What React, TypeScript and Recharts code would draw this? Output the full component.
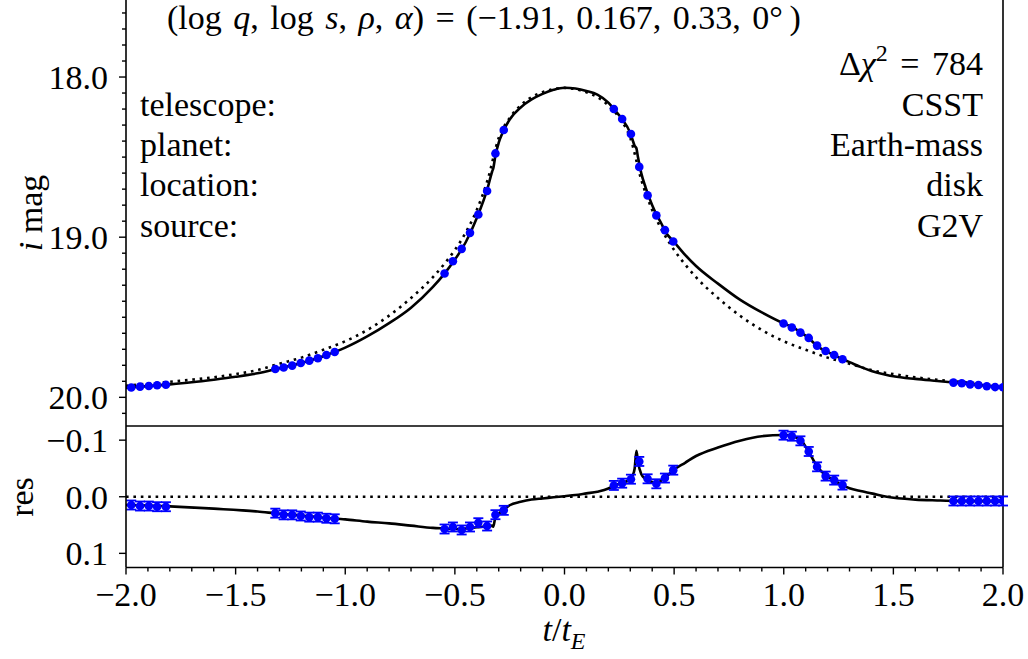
import React from "react";
import { ComposedChart, Line, Scatter, XAxis, YAxis, ErrorBar, ReferenceLine } from "recharts";

// --- values ---

// binary-lens model light curve (solid)
const modelT = [
  -2.0, -1.9, -1.8, -1.7, -1.6, -1.5, -1.4, -1.3, -1.2, -1.1, -1.0, -0.9, -0.8, -0.7, -0.6, -0.55, -0.5,
  -0.45, -0.4, -0.35, -0.33, -0.325, -0.315, -0.3, -0.28, -0.25, -0.2, -0.15, -0.1, -0.05, 0, 0.05, 0.1,
  0.15, 0.2, 0.225, 0.26, 0.3, 0.31, 0.32, 0.328, 0.335, 0.35, 0.37, 0.4, 0.42, 0.44, 0.46, 0.5, 0.55,
  0.6, 0.7, 0.8, 0.9, 1.0, 1.04, 1.08, 1.11, 1.15, 1.19, 1.23, 1.27, 1.3, 1.35, 1.4, 1.47, 1.5, 1.6, 1.7,
  1.8, 1.9, 2.0,
];
const modelMag = [
  19.94, 19.93, 19.919, 19.906, 19.89, 19.872, 19.85, 19.818, 19.785, 19.743, 19.69, 19.62, 19.537,
  19.44, 19.31, 19.232, 19.14, 19.03, 18.88, 18.69, 18.59, 18.57, 18.49, 18.41, 18.34, 18.265, 18.19,
  18.14, 18.105, 18.08, 18.067, 18.072, 18.087, 18.11, 18.16, 18.2, 18.258, 18.35, 18.39, 18.43, 18.445,
  18.5, 18.6, 18.69, 18.8, 18.86, 18.91, 18.966, 19.03, 19.11, 19.18, 19.29, 19.39, 19.47, 19.539,
  19.562, 19.598, 19.626, 19.676, 19.712, 19.736, 19.763, 19.78, 19.81, 19.835, 19.86, 19.868, 19.885,
  19.898, 19.911, 19.924, 19.936,
];

// single-lens curve (dotted)
const singleT = [
  -2.0, -1.9, -1.8, -1.7, -1.6, -1.5, -1.4, -1.3, -1.2, -1.1, -1.0, -0.9, -0.8, -0.7, -0.6, -0.55, -0.5,
  -0.45, -0.4, -0.35, -0.3, -0.25, -0.2, -0.15, -0.1, 0, 0.1, 0.15, 0.2, 0.25, 0.3, 0.35, 0.4, 0.45, 0.5,
  0.55, 0.6, 0.7, 0.8, 0.9, 1.0, 1.1, 1.2, 1.3, 1.4, 1.5, 1.6, 1.7, 1.8, 1.9, 2.0,
];
const singleMag = [
  19.928, 19.915, 19.903, 19.89, 19.875, 19.855, 19.83, 19.79, 19.752, 19.703, 19.65, 19.58, 19.49,
  19.38, 19.25, 19.17, 19.08, 18.97, 18.83, 18.64, 18.38, 18.255, 18.177, 18.125, 18.095, 18.068, 18.095,
  18.125, 18.177, 18.255, 18.38, 18.64, 18.83, 18.97, 19.08, 19.17, 19.25, 19.38, 19.49, 19.58, 19.65,
  19.703, 19.752, 19.79, 19.83, 19.855, 19.875, 19.89, 19.903, 19.915, 19.928,
];

// residual model (solid, lower panel)
const resT = [
  -2.0, -1.9, -1.8, -1.6, -1.4, -1.3, -1.2, -1.1, -1.0, -0.9, -0.8, -0.7, -0.6, -0.55, -0.5, -0.45, -0.4,
  -0.35, -0.33, -0.325, -0.315, -0.3, -0.28, -0.25, -0.2, -0.15, -0.1, -0.05, 0, 0.05, 0.1, 0.15, 0.2,
  0.225, 0.26, 0.3, 0.31, 0.32, 0.328, 0.335, 0.35, 0.37, 0.4, 0.42, 0.44, 0.46, 0.5, 0.55, 0.6, 0.7, 0.8,
  0.9, 1.0, 1.04, 1.08, 1.11, 1.15, 1.19, 1.23, 1.27, 1.3, 1.35, 1.4, 1.47, 1.6, 1.7, 1.8, 2.0,
];
const resModel = [
  0.0145, 0.0155, 0.017, 0.021, 0.026, 0.03, 0.033, 0.037, 0.04, 0.044, 0.047, 0.051, 0.055, 0.056, 0.057,
  0.056, 0.054, 0.052, 0.051, 0.053, 0.036, 0.03, 0.024, 0.015, 0.009, 0.005, 0.003, 0.001, -0.001,
  -0.003, -0.006, -0.009, -0.0145, -0.0195, -0.024, -0.031, -0.037, -0.05, -0.081, -0.062, -0.04, -0.031,
  -0.026, -0.025, -0.028, -0.034, -0.048, -0.06, -0.072, -0.087, -0.099, -0.107, -0.109, -0.107, -0.099,
  -0.082, -0.055, -0.038, -0.029, -0.02, -0.015, -0.01, -0.006, 0.0, 0.005, 0.0065, 0.0075, 0.0078,
];

// observed points
const obsT = [
  -1.976, -1.936, -1.896, -1.858, -1.818,
  -1.319, -1.281, -1.242, -1.203, -1.164, -1.125, -1.086, -1.048,
  -0.547, -0.509, -0.469, -0.431, -0.393, -0.353, -0.315, -0.277,
  0.225, 0.263, 0.303, 0.341, 0.379, 0.419, 0.458, 0.496,
  0.999, 1.037, 1.076, 1.114, 1.152, 1.191, 1.23, 1.268,
  1.774, 1.812, 1.85, 1.888, 1.926, 1.964, 2.0,
];
const obsMag = [
  19.939, 19.933, 19.929, 19.925, 19.921,
  19.823, 19.814, 19.802, 19.786, 19.771, 19.756, 19.736, 19.717,
  19.227, 19.15, 19.073, 18.973, 18.858, 18.712, 18.477, 18.331,
  18.2, 18.262, 18.356, 18.561, 18.739, 18.864, 18.956, 19.027,
  19.539, 19.564, 19.596, 19.629, 19.677, 19.711, 19.736, 19.762,
  19.908, 19.912, 19.919, 19.923, 19.931, 19.936, 19.937,
];
const obsRes = [
  0.0146, 0.0164, 0.0164, 0.0176, 0.0176,
  0.029, 0.032, 0.032, 0.034, 0.036, 0.036, 0.038, 0.039,
  0.057, 0.0534, 0.0587, 0.0534, 0.0459, 0.0517, 0.0317, 0.024,
  -0.02, -0.024, -0.031, -0.0624, -0.0317, -0.0229, -0.033, -0.047,
  -0.1088, -0.107, -0.0988, -0.08, -0.0529, -0.0365, -0.0294, -0.0206,
  0.0075, 0.0075, 0.0075, 0.0075, 0.0075, 0.0075, 0.0075,
];
const obsErr = 0.008;

// ticks
const magTicks = [
  17.6, 17.7, 17.8, 17.9, 18.0, 18.1, 18.2, 18.3, 18.4, 18.5, 18.6, 18.7, 18.8, 18.9, 19.0,
  19.1, 19.2, 19.3, 19.4, 19.5, 19.6, 19.7, 19.8, 19.9, 20.0, 20.1,
];
const resTicks = [-0.1, 0.0, 0.1];
const tTicks = [
  -2.0, -1.9, -1.8, -1.7, -1.6, -1.5, -1.4, -1.3, -1.2, -1.1, -1.0, -0.9, -0.8, -0.7, -0.6, -0.5, -0.4,
  -0.3, -0.2, -0.1, 0.0, 0.1, 0.2, 0.3, 0.4, 0.5, 0.6, 0.7, 0.8, 0.9, 1.0, 1.1, 1.2, 1.3, 1.4, 1.5, 1.6,
  1.7, 1.8, 1.9, 2.0,
];

// --- chart tables ---
const modelData = modelT.map((t, i) => ({ t, v: modelMag[i] }));
const singleData = singleT.map((t, i) => ({ t, v: singleMag[i] }));
const resData = resT.map((t, i) => ({ t, v: resModel[i] }));
const pointData = obsT.map((t, i) => ({ t, v: obsMag[i] }));
const pointResData = obsT.map((t, i) => ({ t, v: obsRes[i], e: obsErr }));

const FONT = "'Liberation Serif', 'Times New Roman', serif";
const BLUE = "#0000ff";
const FS = 34;
const PLOT_LEFT = 126;
// lower panel svg starts at page y=400, plot spans 426..567.5
const LOWER_TOP = 26;
const LOWER_BOTTOM = LOWER_TOP + 141.5;
const LOWER_H = 259;
const axisStyle = { stroke: "#000", strokeWidth: 1.6 };

const fmt = (v: number) => v.toFixed(1).replace("-", "\u2212");
const onStep = (v: number, step: number) => Math.abs(v / step - Math.round(v / step)) < 1e-6;

function LeftTick(props: any) {
  const { y, payload, step } = props;
  const major = onStep(payload.value, step);
  const len = major ? 7 : 4;
  return (
    <g>
      <line x1={PLOT_LEFT - len} x2={PLOT_LEFT} y1={y} y2={y} stroke="#000" strokeWidth={1.4} />
      {major && (
        <text x={PLOT_LEFT - 18} y={y} dy="0.35em" textAnchor="end" fontSize={FS} fontFamily={FONT} fill="#000">
          {fmt(payload.value)}
        </text>
      )}
    </g>
  );
}

function BottomTick(props: any) {
  const { x, payload } = props;
  const major = onStep(payload.value, 0.5);
  const len = major ? 7 : 4;
  return (
    <g>
      <line x1={x} x2={x} y1={LOWER_BOTTOM} y2={LOWER_BOTTOM + len} stroke="#000" strokeWidth={1.4} />
      {major && (
        <text x={x} y={LOWER_BOTTOM + 38} textAnchor="middle" fontSize={FS} fontFamily={FONT} fill="#000">
          {fmt(payload.value)}
        </text>
      )}
    </g>
  );
}

const dotShape = (p: any) => <circle cx={p.cx} cy={p.cy} r={4.3} fill={BLUE} />;

export default function App() {
  const it = { fontStyle: "italic" as const };
  return (
    <div style={{ position: "absolute", left: 0, top: 0, width: 1028, height: 659, background: "#fff" }}>
      <div style={{ position: "absolute", left: 0, top: 0 }}>
        <ComposedChart width={1028} height={426} margin={{ top: 0, right: 25, bottom: 0, left: 0 }}>
          <XAxis type="number" dataKey="t" domain={[-2, 2]} allowDataOverflow height={0} tick={false} tickLine={false} axisLine={axisStyle} />
          <YAxis
            type="number"
            dataKey="v"
            domain={[17.519, 20.179]}
            reversed
            allowDataOverflow
            width={PLOT_LEFT}
            ticks={magTicks}
            interval={0}
            tickLine={false}
            axisLine={axisStyle}
            tick={(p: any) => <LeftTick {...p} step={1} />}
          />
          <ReferenceLine x={2} stroke="#000" strokeWidth={1.6} />
          <Line data={singleData} dataKey="v" type="monotoneX" stroke="#000" strokeWidth={2.6} strokeDasharray="2.6 4.8" dot={false} isAnimationActive={false} />
          <Line data={modelData} dataKey="v" type="monotoneX" stroke="#000" strokeWidth={2.6} dot={false} isAnimationActive={false} />
          <Scatter data={pointData} dataKey="v" shape={dotShape} isAnimationActive={false} />
        </ComposedChart>
      </div>
      <div style={{ position: "absolute", left: 0, top: 426 - LOWER_TOP }}>
        <ComposedChart width={1028} height={LOWER_H} margin={{ top: LOWER_TOP, right: 25, bottom: 0, left: 0 }}>
          <XAxis
            type="number"
            dataKey="t"
            domain={[-2, 2]}
            allowDataOverflow
            height={LOWER_H - LOWER_BOTTOM}
            ticks={tTicks}
            interval={0}
            tickLine={false}
            axisLine={axisStyle}
            tick={(p: any) => <BottomTick {...p} />}
          />
          <YAxis
            type="number"
            dataKey="v"
            domain={[-0.125, 0.125]}
            reversed
            allowDataOverflow
            width={PLOT_LEFT}
            ticks={resTicks}
            interval={0}
            tickLine={false}
            axisLine={axisStyle}
            tick={(p: any) => <LeftTick {...p} step={0.1} />}
          />
          <ReferenceLine x={2} stroke="#000" strokeWidth={1.6} />
          <ReferenceLine y={-0.125} stroke="#000" strokeWidth={1.6} />
          <ReferenceLine y={0} stroke="#000" strokeWidth={2.6} strokeDasharray="2.6 4.8" />
          <Line data={resData} dataKey="v" type="monotoneX" stroke="#000" strokeWidth={2.6} dot={false} isAnimationActive={false} />
          <Scatter data={pointResData} dataKey="v" shape={dotShape} isAnimationActive={false}>
            <ErrorBar dataKey="e" direction="y" width={5} stroke={BLUE} strokeWidth={1.8} />
          </Scatter>
        </ComposedChart>
      </div>
      <svg
        width={1028}
        height={659}
        style={{ position: "absolute", left: 0, top: 0, pointerEvents: "none" }}
        fontFamily={FONT}
        fontSize={FS}
        fill="#000"
      >
        <text x={167} y={29} wordSpacing={3}>
          {"(log "}
          <tspan {...it}>q</tspan>
          {", log "}
          <tspan {...it}>s</tspan>
          {", "}
          <tspan {...it}>ρ</tspan>
          {", "}
          <tspan {...it}>α</tspan>
          {") = (\u22121.91, 0.167, 0.33, 0°\u2009)"}
        </text>
        <text x={983} y={75} textAnchor="end" wordSpacing={4}>
          {"Δ"}
          <tspan {...it}>χ</tspan>
          <tspan dy={-14} fontSize={24}>2</tspan>
          <tspan dy={14}>{" = 784"}</tspan>
        </text>
        <text x={140} y={116}>telescope:</text>
        <text x={140} y={156}>planet:</text>
        <text x={140} y={196}>location:</text>
        <text x={140} y={237}>source:</text>
        <text x={983} y={116} textAnchor="end">CSST</text>
        <text x={983} y={156} textAnchor="end">Earth-mass</text>
        <text x={983} y={196} textAnchor="end">disk</text>
        <text x={983} y={237} textAnchor="end">G2V</text>
        <text transform="translate(42,213) rotate(-90)" textAnchor="middle">
          <tspan {...it}>i</tspan>
          {" mag"}
        </text>
        <text transform="translate(33,497) rotate(-90)" textAnchor="middle">res</text>
        <text x={564} y={641} textAnchor="middle">
          <tspan {...it}>t</tspan>
          {"/"}
          <tspan {...it}>t</tspan>
          <tspan {...it} dy={8} fontSize={24}>E</tspan>
        </text>
      </svg>
    </div>
  );
}
